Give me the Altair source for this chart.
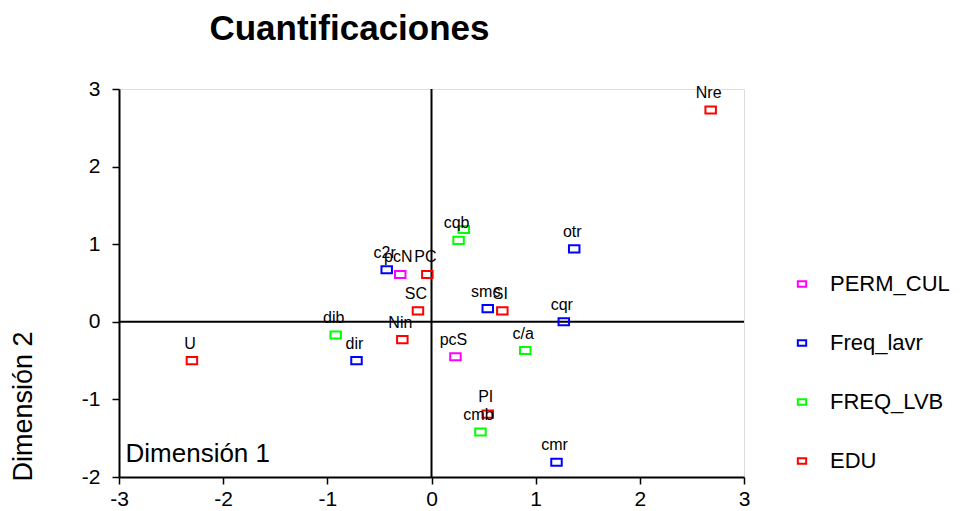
import altair as alt
import pandas as pd

labels = ["Nre", "", "cqb", "otr", "c2r", "pcN", "PC", "SC", "smc", "SI",
          "cqr", "dib", "Nin", "dir", "U", "pcS", "c/a", "PI", "cmb", "cmr"]
dim1 = [2.68, 0.31, 0.26, 1.37, -0.43, -0.30, -0.04, -0.13, 0.54, 0.68,
        1.27, -0.92, -0.28, -0.72, -2.30, 0.23, 0.90, 0.54, 0.47, 1.20]
dim2 = [2.73, 1.19, 1.05, 0.94, 0.67, 0.61, 0.61, 0.14, 0.17, 0.14,
        0.00, -0.17, -0.23, -0.50, -0.50, -0.45, -0.37, -1.19, -1.42, -1.81]
groups = ["EDU", "FREQ_LVB", "FREQ_LVB", "Freq_lavr", "Freq_lavr", "PERM_CUL",
          "EDU", "EDU", "Freq_lavr", "EDU", "Freq_lavr", "FREQ_LVB", "EDU",
          "Freq_lavr", "EDU", "PERM_CUL", "FREQ_LVB", "EDU", "FREQ_LVB", "Freq_lavr"]

legend_order = ["PERM_CUL", "Freq_lavr", "FREQ_LVB", "EDU"]
legend_colors = ["#FF00FF", "#0000FF", "#00FF00", "#FF0000"]
x_ticks = [-3, -2, -1, 0, 1, 2, 3]
y_ticks = [-2, -1, 0, 1, 2, 3]

df = pd.DataFrame({"label": labels, "d1": dim1, "d2": dim2, "grupo": groups})

FONT = "Liberation Sans"
rect_shape = "M-1,-0.68H1V0.68H-1Z"

x_enc = alt.X("d1:Q", scale=alt.Scale(domain=[-3, 3], nice=False, zero=False),
              axis=alt.Axis(values=x_ticks, labelExpr="toString(datum.value)",
                            title="Dimensión 1", titleX=6, titleY=-16,
                            titleAlign="left", titleBaseline="alphabetic",
                            titleFontSize=26, titleFontWeight="normal", titleFont=FONT,
                            grid=False, labelFontSize=21, labelFont=FONT, labelColor="black",
                            tickColor="black", domainColor="black", tickSize=7,
                            domainWidth=2, tickWidth=1.5, labelPadding=4, labelFlush=False))
y_enc = alt.Y("d2:Q", scale=alt.Scale(domain=[-2, 3], nice=False, zero=False),
              axis=alt.Axis(values=y_ticks, labelExpr="toString(datum.value)",
                            title="Dimensión 2", titleX=-88, titleY=317,
                            titleAngle=270, titleAlign="center", titleBaseline="alphabetic",
                            titleFontSize=27, titleFontWeight="normal", titleFont=FONT,
                            grid=False, labelFontSize=21, labelFont=FONT, labelColor="black",
                            tickColor="black", domainColor="black", tickSize=7,
                            domainWidth=2, tickWidth=1.5, labelPadding=12, labelFlush=False))

base = alt.Chart(df)

points = base.mark_point(shape=rect_shape, size=110, strokeWidth=2, filled=False, opacity=1).encode(
    x=x_enc, y=y_enc,
    color=alt.Color("grupo:N", scale=alt.Scale(domain=legend_order, range=legend_colors),
                    legend=alt.Legend(title=None, orient="none", legendX=672, legendY=184,
                                      labelFontSize=22, labelFont=FONT, labelColor="black",
                                      symbolSize=70, symbolStrokeWidth=2, symbolType=rect_shape,
                                      rowPadding=37, labelOffset=17, symbolFillColor="transparent")),
)

text = base.mark_text(fontSize=16, font=FONT, color="black", dy=-12, dx=-2,
                      baseline="alphabetic").encode(x="d1:Q", y="d2:Q", text="label:N")

vline = alt.Chart(pd.DataFrame({"v": [0]})).mark_rule(color="black", strokeWidth=2).encode(x="v:Q")
hline = alt.Chart(pd.DataFrame({"h": [0]})).mark_rule(color="black", strokeWidth=2).encode(y="h:Q")

chart = alt.layer(vline, hline, points, text).properties(
    width=625, height=388,
    autosize=alt.AutoSizeParams(type="none"),
    padding={"left": 111, "top": 81, "right": 208, "bottom": 33},
    title=alt.TitleParams("Cuantificaciones", font=FONT, fontSize=35, fontWeight="bold",
                          anchor="middle", dx=-82, offset=31, color="black"),
).configure_view(stroke="black", strokeWidth=2).configure(background="white")

chart.save("out.html", embed_options={"renderer": "svg", "actions": False})
